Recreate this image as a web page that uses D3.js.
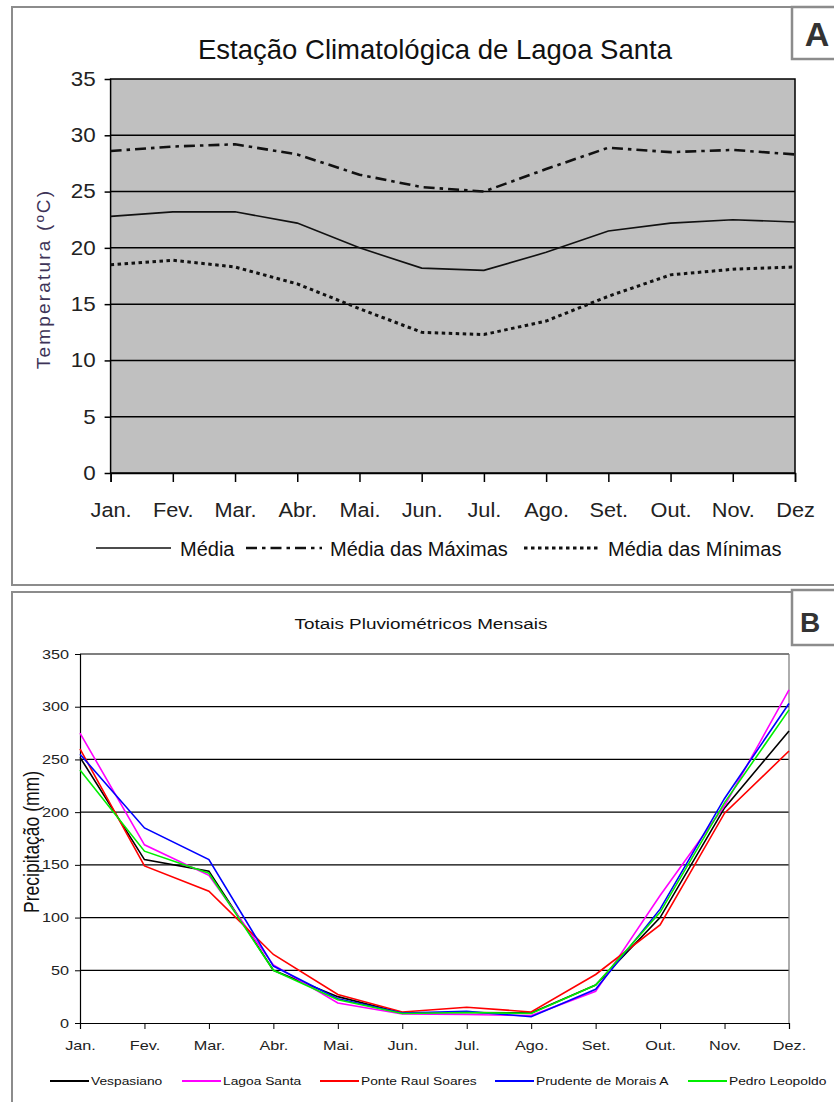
<!DOCTYPE html>
<html>
<head>
<meta charset="utf-8">
<script src="https://cdn.jsdelivr.net/npm/d3@7"></script>
<style>
body { margin: 0; background: #fff; }
svg { display: block; font-family: "Liberation Sans", Arial, sans-serif; }
</style>
</head>
<body>
<div class="container"></div>
<script>
// Panel A - temperatures (ºC)
const monthsA = ["Jan.", "Fev.", "Mar.", "Abr.", "Mai.", "Jun.", "Jul.", "Ago.", "Set.", "Out.", "Nov.", "Dez"]
const tempMedia = [22.8, 23.2, 23.2, 22.2, 20.0, 18.2, 18.0, 19.6, 21.5, 22.2, 22.5, 22.3]
const tempMaximas = [28.6, 29.0, 29.2, 28.3, 26.5, 25.4, 25.0, 27.0, 28.9, 28.5, 28.7, 28.3]
const tempMinimas = [18.5, 18.9, 18.3, 16.8, 14.6, 12.5, 12.3, 13.5, 15.7, 17.6, 18.1, 18.3]
const tempTicks = [0, 5, 10, 15, 20, 25, 30, 35]

// Panel B - rainfall (mm)
const monthsB = ["Jan.", "Fev.", "Mar.", "Abr.", "Mai.", "Jun.", "Jul.", "Ago.", "Set.", "Out.", "Nov.", "Dez."]
const stations = ["Vespasiano", "Lagoa Santa", "Ponte Raul Soares", "Prudente de Morais A", "Pedro Leopoldo"]
const vespasiano = [252, 155, 144, 50, 25, 9.5, 10, 9.5, 36, 100, 204, 277]
const lagoaSanta = [275, 169, 140, 55, 19, 8.5, 8, 7, 30, 121, 206, 316]
const ponteRaulSoares = [260, 149, 125, 65, 27, 10.5, 15, 10.5, 46, 93, 199, 258]
const prudenteDeMorais = [255, 185, 155, 54, 23, 9.5, 11, 6, 32, 108, 213, 303]
const pedroLeopoldo = [240, 163, 142, 50, 22, 9, 10, 9, 36, 105, 209, 297]
const rainTicks = [0, 50, 100, 150, 200, 250, 300, 350]

const svg = d3.select(".container")
    .append("svg")
    .attr("width", 834)
    .attr("height", 1102)

// stretch text horizontally (the B picture is widened)
function stretch(text, k) {
    text.each(function() {
        const t = d3.select(this)
        const x = +t.attr("x") || 0
        t.attr("x", x / k).attr("transform", `scale(${k},1)`)
    })
}

function panelFrame(y, h, letter, boxY, boxH, letterX, letterY, letterSize) {
    svg.append("rect")
        .attr("x", 12).attr("y", y)
        .attr("width", 840).attr("height", h)
        .attr("fill", "none")
        .attr("stroke", "#8c8c8c")
        .attr("stroke-width", 2)
    svg.append("rect")
        .attr("x", 792).attr("y", boxY)
        .attr("width", 60).attr("height", boxH)
        .attr("fill", "#fff")
        .attr("stroke", "#8c8c8c")
        .attr("stroke-width", 2.5)
    svg.append("text")
        .text(letter)
        .attr("x", letterX).attr("y", letterY)
        .attr("text-anchor", "middle")
        .attr("font-size", letterSize)
        .attr("font-weight", "bold")
        .attr("fill", "#333")
}

panelFrame(7, 578, "A", 7, 52, 817, 46, 34)
panelFrame(592, 530, "B", 590, 55, 810, 632, 28)

// ---------- Panel A ----------
const xA = d3.scalePoint().domain(monthsA).range([110.6, 795])
const yA = d3.scaleLinear().domain([0, 35]).range([473, 79])

const gA = svg.append("g")

gA.append("rect")
    .attr("x", xA.range()[0]).attr("y", yA(35))
    .attr("width", xA.range()[1] - xA.range()[0])
    .attr("height", yA(0) - yA(35))
    .attr("fill", "#c0c0c0")

gA.selectAll(".gridA")
    .data(tempTicks.filter(d => d > 0 && d < 35))
    .enter()
    .append("line")
    .attr("x1", xA.range()[0]).attr("x2", xA.range()[1])
    .attr("y1", d => yA(d)).attr("y2", d => yA(d))
    .attr("stroke", "#000")
    .attr("stroke-width", 1.5)

gA.append("rect")
    .attr("x", xA.range()[0]).attr("y", yA(35))
    .attr("width", xA.range()[1] - xA.range()[0])
    .attr("height", yA(0) - yA(35))
    .attr("fill", "none")
    .attr("stroke", "#000")
    .attr("stroke-width", 1.5)

const yAxisA = gA.append("g")
    .attr("transform", `translate(${xA.range()[0]},0)`)
    .call(d3.axisLeft(yA).tickValues(tempTicks).tickSize(6).tickPadding(9))
yAxisA.select(".domain").remove()
yAxisA.selectAll(".tick line").attr("stroke-width", 1.5)
yAxisA.selectAll("text")
    .attr("font-size", 20)
    .attr("font-family", "Liberation Sans, Arial, sans-serif")
    .attr("fill", "#222")
    .call(stretch, 1.12)

const xAxisA = gA.append("g")
    .attr("transform", `translate(0,${yA(0)})`)
    .call(d3.axisBottom(xA).tickSize(9).tickPadding(20))
xAxisA.select(".domain").attr("stroke-width", 1.5)
xAxisA.selectAll(".tick line").attr("stroke-width", 1.5)
xAxisA.selectAll("text")
    .attr("font-size", 20.5)
    .attr("font-family", "Liberation Sans, Arial, sans-serif")
    .attr("fill", "#222")
    .call(stretch, 1.06)

gA.append("text")
    .text("Estação Climatológica de Lagoa Santa")
    .attr("x", 435).attr("y", 59)
    .attr("text-anchor", "middle")
    .attr("font-size", 27.5)
    .attr("fill", "#111")

gA.append("text")
    .text("Temperatura (ºC)")
    .attr("transform", "translate(50,279) rotate(-90)")
    .attr("text-anchor", "middle")
    .attr("font-size", 19)
    .attr("letter-spacing", 2.2)
    .attr("fill", "#3d3357")

const seriesA = [
    {name: "Média", values: tempMedia, width: 1.6, dash: null},
    {name: "Média das Máximas", values: tempMaximas, width: 2.6, dash: "11,5,3.5,5"},
    {name: "Média das Mínimas", values: tempMinimas, width: 3, dash: "3.5,3.5"}
]

const lineA = d3.line()
    .x((d, i) => xA(monthsA[i]))
    .y(d => yA(d))

gA.selectAll(".lineA")
    .data(seriesA)
    .enter()
    .append("path")
    .attr("d", d => lineA(d.values))
    .attr("fill", "none")
    .attr("stroke", "#111")
    .attr("stroke-width", d => d.width)
    .attr("stroke-dasharray", d => d.dash)

// legend A
const legendA = [
    {x1: 96, x2: 171, tx: 180},
    {x1: 246, x2: 322, tx: 330},
    {x1: 524, x2: 600, tx: 608}
]
legendA.forEach((p, i) => {
    const s = seriesA[i]
    gA.append("line")
        .attr("x1", p.x1).attr("x2", p.x2)
        .attr("y1", 548).attr("y2", 548)
        .attr("stroke", "#111")
        .attr("stroke-width", s.width)
        .attr("stroke-dasharray", s.dash)
    gA.append("text")
        .text(s.name)
        .attr("x", p.tx).attr("y", 556)
        .attr("font-size", 20)
        .attr("fill", "#111")
})

// ---------- Panel B ----------
const xB = d3.scalePoint().domain(monthsB).range([80, 789])
const yB = d3.scaleLinear().domain([0, 350]).range([1023, 654])
const kB = 1.25

const seriesB = [
    {name: stations[0], values: vespasiano, color: "#000000"},
    {name: stations[1], values: lagoaSanta, color: "#ff00ff"},
    {name: stations[2], values: ponteRaulSoares, color: "#ff0000"},
    {name: stations[3], values: prudenteDeMorais, color: "#0000ff"},
    {name: stations[4], values: pedroLeopoldo, color: "#00ee00"}
]

const gB = svg.append("g")

gB.selectAll(".gridB")
    .data(rainTicks.filter(d => d > 0))
    .enter()
    .append("line")
    .attr("x1", xB.range()[0]).attr("x2", xB.range()[1])
    .attr("y1", d => yB(d)).attr("y2", d => yB(d))
    .attr("stroke", "#000")
    .attr("stroke-width", 1.2)

gB.append("line")
    .attr("x1", xB.range()[1]).attr("x2", xB.range()[1])
    .attr("y1", yB(350)).attr("y2", yB(0))
    .attr("stroke", "#777")
    .attr("stroke-width", 1.2)

const yAxisB = gB.append("g")
    .attr("transform", `translate(${xB.range()[0]},0)`)
    .call(d3.axisLeft(yB).tickValues(rainTicks).tickSize(5).tickPadding(6))
yAxisB.select(".domain").attr("stroke-width", 1.2)
yAxisB.selectAll("text")
    .attr("font-size", 12.5)
    .attr("font-family", "Liberation Sans, Arial, sans-serif")
    .attr("fill", "#222")
    .call(stretch, 1.3)

const xAxisB = gB.append("g")
    .attr("transform", `translate(0,${yB(0)})`)
    .call(d3.axisBottom(xB).tickSize(6).tickPadding(12))
xAxisB.select(".domain").attr("stroke-width", 1.2)
xAxisB.selectAll("text")
    .attr("font-size", 12.5)
    .attr("font-family", "Liberation Sans, Arial, sans-serif")
    .attr("fill", "#222")
    .call(stretch, 1.3)

gB.append("text")
    .text("Totais Pluviométricos Mensais")
    .attr("x", 421).attr("y", 629)
    .attr("text-anchor", "middle")
    .attr("font-size", 15.5)
    .attr("fill", "#111")
    .call(stretch, 1.22)

gB.append("text")
    .text("Precipitação (mm)")
    .attr("transform", `translate(39,842) scale(${kB},1) rotate(-90)`)
    .attr("text-anchor", "middle")
    .attr("font-size", 17.5)
    .attr("fill", "#111")

const lineB = d3.line()
    .x((d, i) => xB(monthsB[i]))
    .y(d => yB(d))

gB.selectAll(".lineB")
    .data(seriesB)
    .enter()
    .append("path")
    .attr("d", d => lineB(d.values))
    .attr("fill", "none")
    .attr("stroke", d => d.color)
    .attr("stroke-width", 1.6)

// legend B
const legendB = [50, 182, 320, 495, 688]
seriesB.forEach((s, i) => {
    const x0 = legendB[i]
    gB.append("line")
        .attr("x1", x0).attr("x2", x0 + 39)
        .attr("y1", 1081).attr("y2", 1081)
        .attr("stroke", s.color)
        .attr("stroke-width", 1.8)
    gB.append("text")
        .text(s.name)
        .attr("x", x0 + 41).attr("y", 1085)
        .attr("font-size", 11.5)
        .attr("fill", "#111")
        .call(stretch, 1.2)
})
</script>
</body>
</html>
